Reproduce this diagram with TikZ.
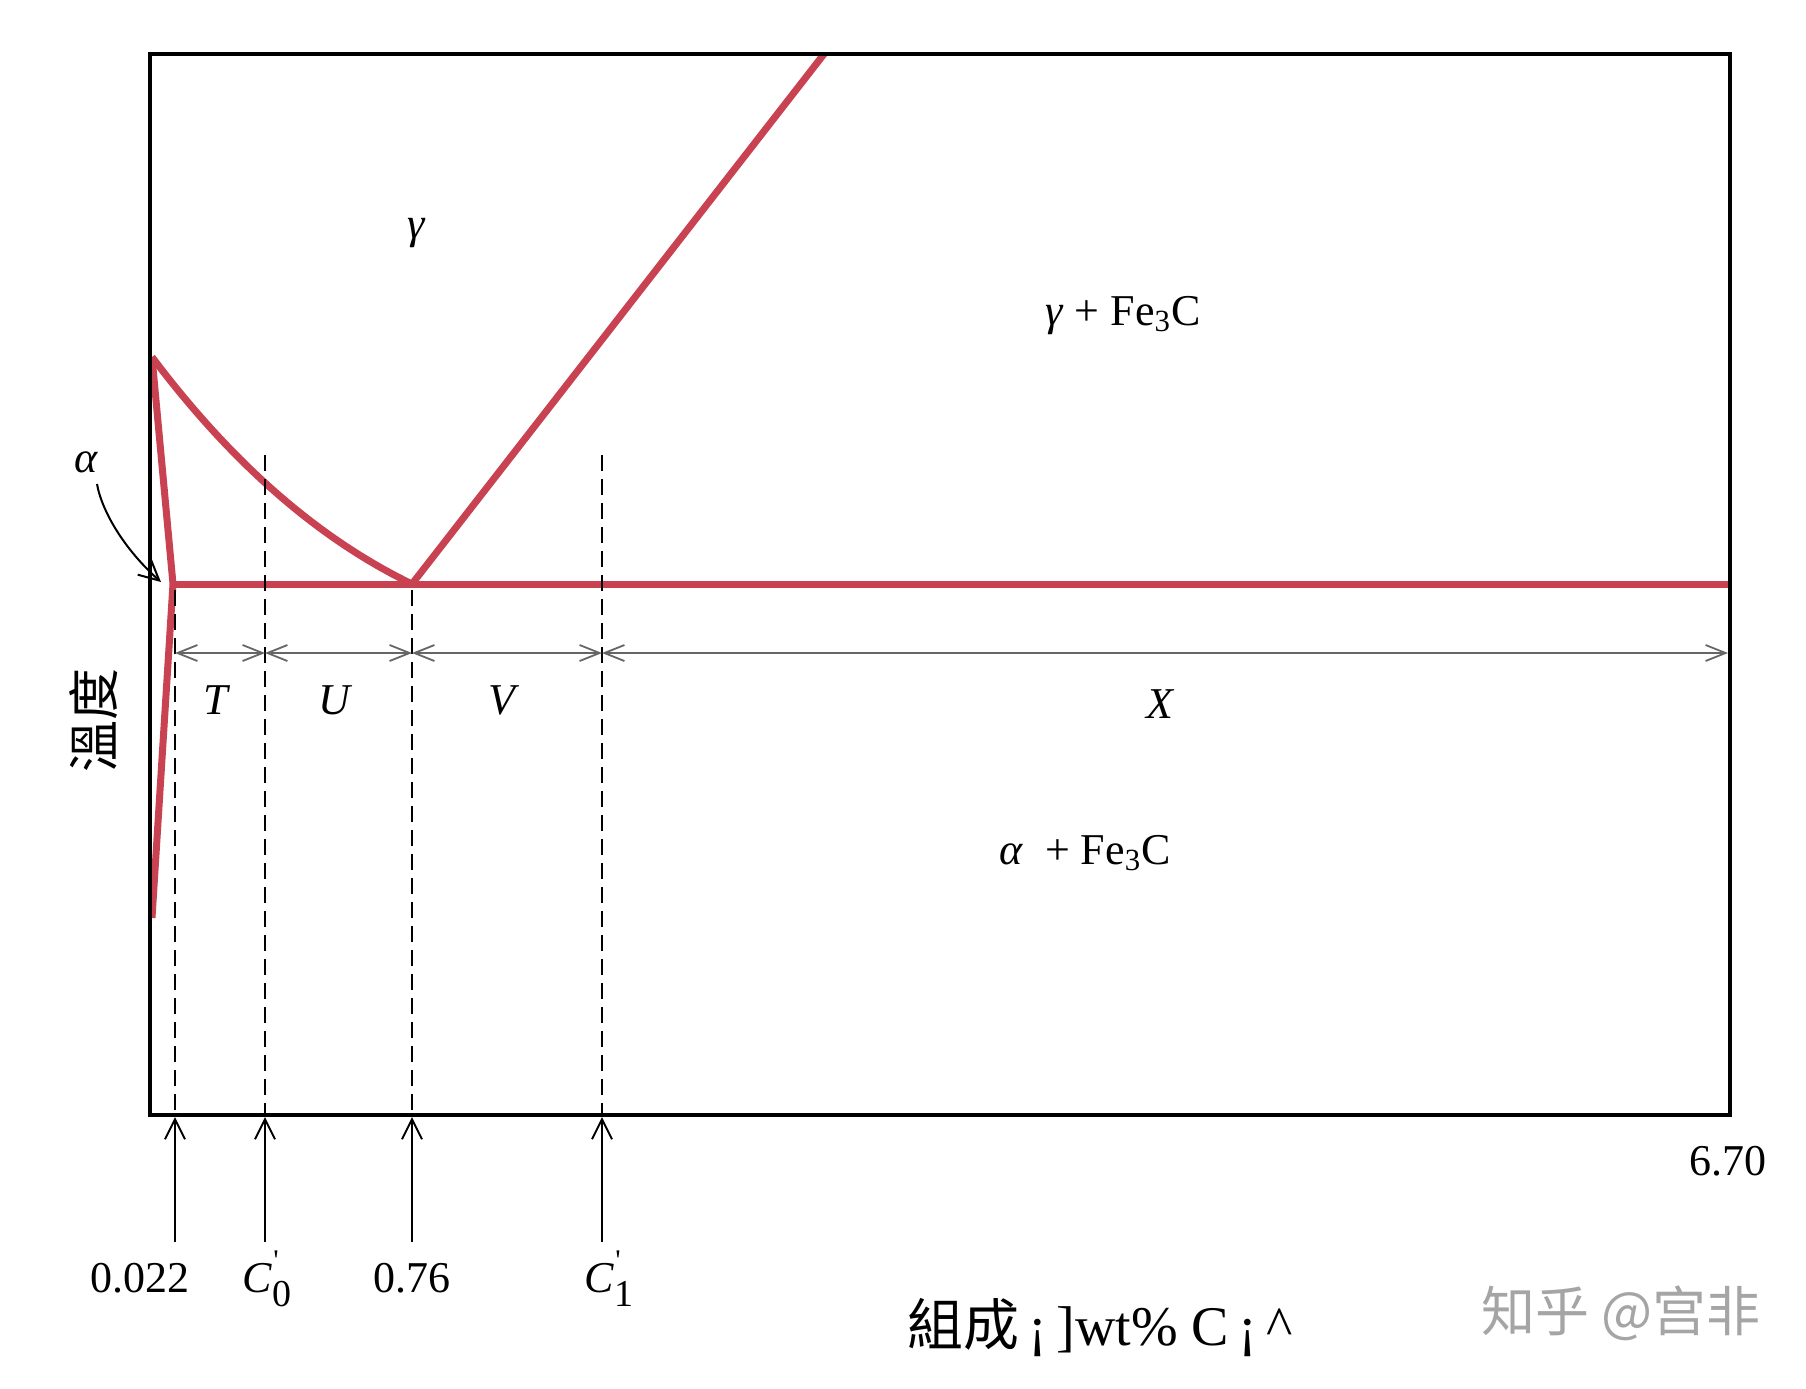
\documentclass[tikz,border=0pt]{standalone}
\usepackage{fontspec}
\setmainfont{Liberation Serif}
\newfontfamily\cjktc{Noto Sans CJK TC}
\newfontfamily\cjksc{Noto Sans CJK SC}
\usetikzlibrary{arrows.meta}
\definecolor{phasered}{RGB}{200,66,82}
\definecolor{wmgray}{RGB}{165,165,165}
\newcommand\cprimelbl[1]{\textit{C}\rlap{\raisebox{1.05ex}{\fontsize{15}{15}\selectfont\hspace{0.5pt}\textquotesingle}}\raisebox{-7pt}{\fontsize{19}{19}\selectfont #1}}
\begin{document}
\begin{tikzpicture}[x=0.5pt,y=-0.5pt,
  frame/.style={line width=2pt},
  phase/.style={draw=phasered,line width=3.5pt,line join=round},
  guide/.style={dash pattern=on 8pt off 4pt,line width=1.1pt},
  marker/.style={line width=1pt,-{Straight Barb[length=10pt,width=10pt]}},
  span/.style={draw=black!60,line width=0.9pt,{Straight Barb[length=10pt,width=8pt]}-{Straight Barb[length=10pt,width=8pt]}},
  lbl/.style={font=\fontsize{22}{26}\selectfont,inner sep=0pt},
  biglbl/.style={font=\fontsize{28}{32}\selectfont,inner sep=0pt},
]
\fill[white] (0,0) rectangle (1806,1388);
\useasboundingbox (0,0) rectangle (1806,1388);

% key points
\coordinate (A) at (152,357);
\coordinate (P) at (173,584);
\coordinate (E) at (412,584);
\coordinate (Q) at (152,918);
\coordinate (R) at (1730,584);
\coordinate (G) at (824,54);

% phase boundaries
\draw[phase] (A) -- (P) -- (Q);
\draw[phase] (A) .. controls (231,462) and (317,538) .. (E);
\draw[phase] (P) -- (R);
\draw[phase] (E) -- (G);

% frame
\draw[frame] (150,54) rectangle (1730,1115);

% dashed guides
\coordinate (d1t) at (175,590); \coordinate (d1b) at (175,1115);
\coordinate (d2t) at (265,455); \coordinate (d2b) at (265,1115);
\coordinate (d3t) at (412,590); \coordinate (d3b) at (412,1115);
\coordinate (d4t) at (602,455); \coordinate (d4b) at (602,1115);
\draw[guide] (d1t) -- (d1b);
\draw[guide] (d2t) -- (d2b);
\draw[guide] (d3t) -- (d3b);
\draw[guide] (d4t) -- (d4b);

% bottom markers
\coordinate (m1) at (175,1242); \coordinate (m1t) at (175,1117);
\coordinate (m2) at (265,1242); \coordinate (m2t) at (265,1117);
\coordinate (m3) at (412,1242); \coordinate (m3t) at (412,1117);
\coordinate (m4) at (602,1242); \coordinate (m4t) at (602,1117);
\draw[marker] (m1) -- (m1t);
\draw[marker] (m2) -- (m2t);
\draw[marker] (m3) -- (m3t);
\draw[marker] (m4) -- (m4t);

% dimension line
\coordinate (s1) at (175,653);
\coordinate (s2) at (265,653);
\coordinate (s3) at (412,653);
\coordinate (s4) at (602,653);
\coordinate (s5) at (1728,653);
\draw[span] (s1) -- (s2);
\draw[span] (s2) -- (s3);
\draw[span] (s3) -- (s4);
\draw[span] (s4) -- (s5);

% segment labels
\node[lbl,anchor=base] (T) at (217,714) {\textit{T}};
\node[lbl,anchor=base] (U) at (336,714) {\textit{U}};
\node[lbl,anchor=base] (V) at (504,714) {\textit{V}};
\node[lbl,anchor=base] (X) at (1161,718) {\textit{X}};

% phase labels
\node[lbl,anchor=base] (gam) at (417,238) {\textit{γ}};
\node[lbl,anchor=base] (gamfe) at (1123,325) {\textit{γ} + Fe\textsubscript{3}C};
\node[lbl,anchor=base] (alfe) at (1085,864) {\textit{α}\ \ + Fe\textsubscript{3}C};
\node[lbl,anchor=base] (al) at (86,472) {\textit{α}};
\coordinate (altail) at (97,484);
\coordinate (altip) at (161,582);
\draw[marker] (altail) .. controls (102,512) and (125,550) .. (altip);

% axis tick labels
\node[lbl,anchor=base] (t1) at (140,1292) {0.022};
\node[lbl,anchor=base] (t2) at (267,1292) {\cprimelbl{0}};
\node[lbl,anchor=base] (t3) at (412,1292) {0.76};
\node[lbl,anchor=base] (t4) at (609,1292) {\cprimelbl{1}};
\node[lbl,anchor=base] (t5) at (1728,1175) {6.70};

% axis titles
\node[font=\fontsize{26}{30}\selectfont\cjktc,inner sep=0pt,rotate=90] (temp) at (94,720) {溫度};
\node[biglbl,anchor=base] (comp) at (1100,1345) {{\cjktc 組成}\,¡\,]wt\% C\,¡\,\textasciicircum};
\node[font=\fontsize{27}{30}\selectfont\cjksc,text=wmgray,inner sep=0pt] (wm) at (1621,1313) {知乎 @宫非};
\end{tikzpicture}
\end{document}
